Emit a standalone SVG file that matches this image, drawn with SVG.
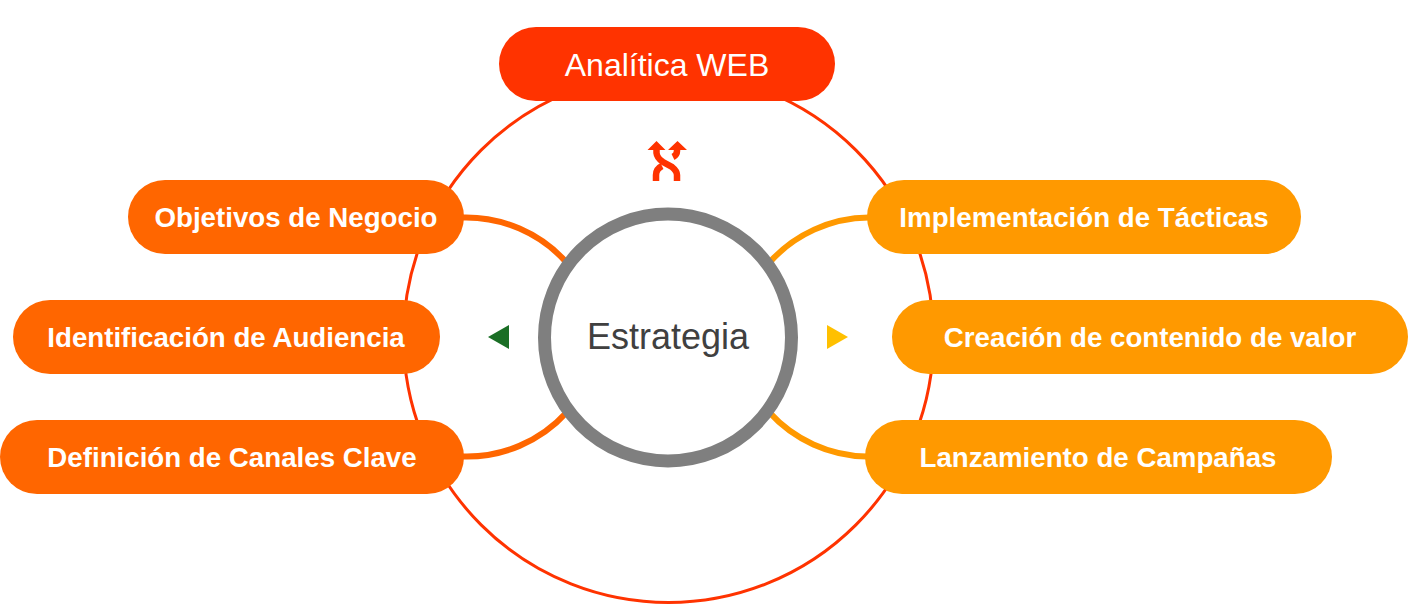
<svg xmlns="http://www.w3.org/2000/svg" width="1411" height="610" viewBox="0 0 1411 610">
<style>
text{font-family:"Liberation Sans",Arial,sans-serif;text-anchor:middle}
.l{font-size:27.700px;font-weight:bold;fill:#fff}
.o1{fill:#ff6600}.o2{fill:#ff9900}
.c{fill:none;stroke-width:6}
.s{fill:none;stroke:#ff3300;stroke-width:6.500}
</style>
<rect width="1411" height="610" fill="#fff"/>
<g id="connectors">
<circle cx="668.500" cy="337.500" r="265" fill="none" stroke="#ff3300" stroke-width="3"/>
<path class="c" stroke="#ff6600" d="M462 217.500A135 135 0 0 1 567 263"/>
<path class="c" stroke="#ff6600" d="M462 456.500A135 135 0 0 0 567 412"/>
<path class="c" stroke="#ff9900" d="M869 217.500A135 135 0 0 0 769 263"/>
<path class="c" stroke="#ff9900" d="M867 456.500A135 135 0 0 1 769 412"/>
</g>
<g id="analitica"><rect x="499" y="27" width="336" height="74" rx="37" fill="#ff3300"/><text x="667" y="76" font-size="32" fill="#fff">Analítica WEB</text></g>
<g id="objetivos"><rect class="o1" x="128" y="180" width="336" height="74" rx="37"/><text class="l" x="296" y="227">Objetivos de Negocio</text></g>
<g id="audiencia"><rect class="o1" x="13" y="300" width="427" height="74" rx="37"/><text class="l" x="226" y="347">Identificación de Audiencia</text></g>
<g id="canales"><rect class="o1" x="0" y="420" width="464" height="74" rx="37"/><text class="l" x="232" y="467">Definición de Canales Clave</text></g>
<g id="tacticas"><rect class="o2" x="867" y="180" width="434" height="74" rx="37"/><text class="l" x="1084" y="227">Implementación de Tácticas</text></g>
<g id="contenido"><rect class="o2" x="892" y="300" width="516" height="74" rx="37"/><text class="l" x="1150" y="347">Creación de contenido de valor</text></g>
<g id="campanas"><rect class="o2" x="865" y="420" width="467" height="74" rx="37"/><text class="l" x="1098" y="467">Lanzamiento de Campañas</text></g>
<g id="estrategia"><circle cx="668" cy="337.500" r="123.500" fill="#fff" stroke="#7f7f7f" stroke-width="13"/><text x="668" y="349" font-size="36" fill="#404040">Estrategia</text></g>
<g id="icon-shuffle">
<path class="s" d="M656.500 148V153Q657 158 663 162L672 167Q677 171 677 175V181"/>
<path class="s" d="M677 148V151Q677 155 673 157M662 166Q656 169 656 175V181"/>
<path d="M647.500 150L656.500 141L665.500 150ZM668 150L677.500 141L687 150Z" fill="#ff3300"/>
</g>
<polygon id="arrow-left" points="488,337 509,325 509,349" fill="#1a6e25"/>
<polygon id="arrow-right" points="848,337 827,325 827,349" fill="#ffc000"/>
</svg>
